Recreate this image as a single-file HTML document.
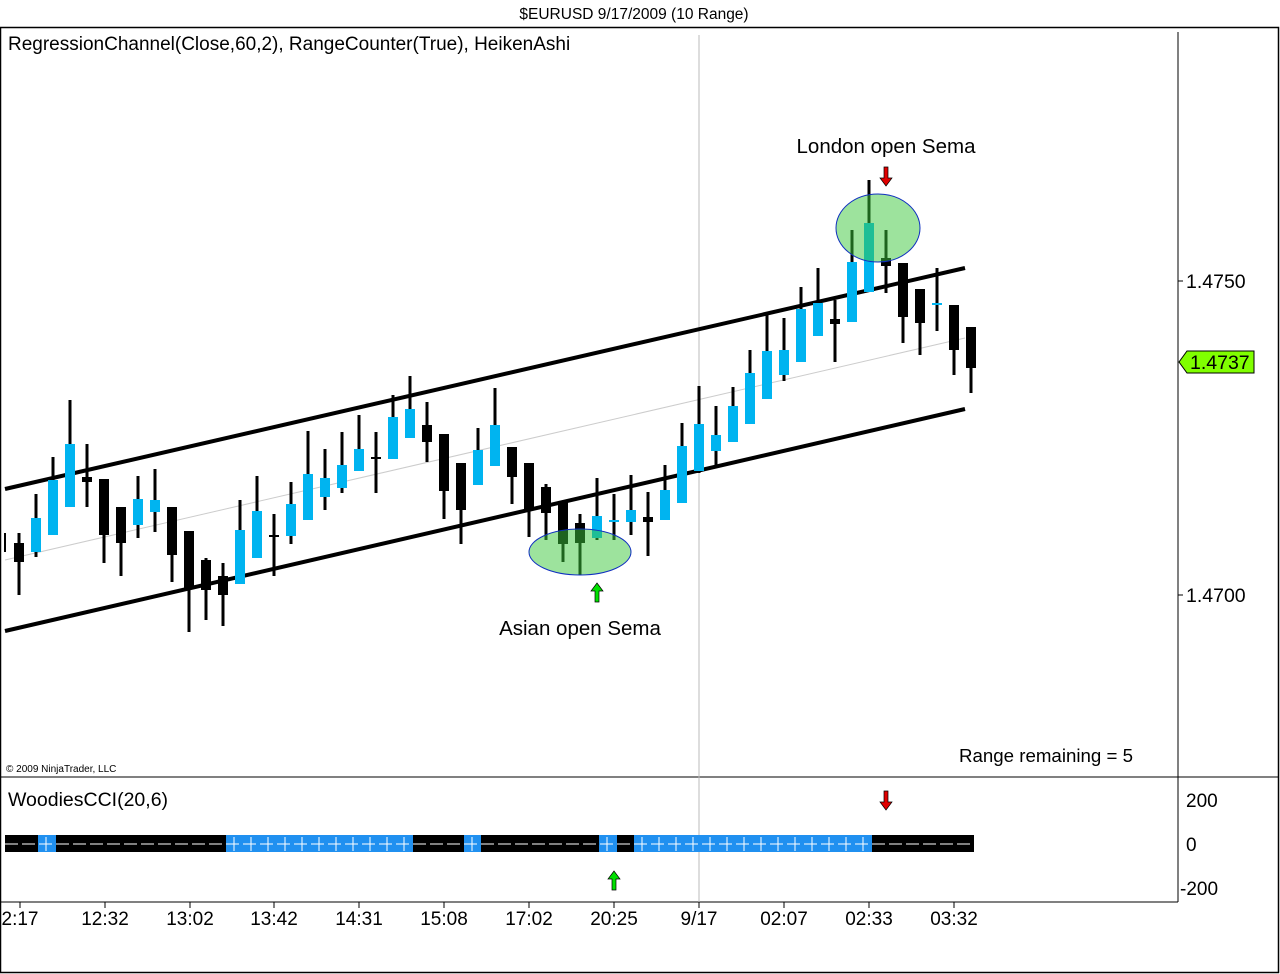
<!DOCTYPE html>
<html><head><meta charset="utf-8"><style>
body{margin:0;background:#fff;width:1280px;height:974px;overflow:hidden}
svg{display:block;font-family:"Liberation Sans",Arial,sans-serif}
</style></head><body>
<svg id="s" width="1280" height="974" viewBox="0 0 1280 974" xmlns="http://www.w3.org/2000/svg">
<rect width="1280" height="974" fill="#fff"/>
<text x="634" y="19" font-size="15.5" text-anchor="middle" fill="#000">$EURUSD  9/17/2009 (10 Range)</text>
<rect x="0.5" y="27.5" width="1278" height="945" fill="none" stroke="#000" stroke-width="1.5"/>
<line x1="1178" y1="32" x2="1178" y2="902" stroke="#000"/>
<line x1="0" y1="777" x2="1279" y2="777" stroke="#000"/>
<line x1="0" y1="902" x2="1178" y2="902" stroke="#000"/>
<line x1="699" y1="35" x2="699" y2="902" stroke="#bbb"/>
<text x="8" y="50" font-size="19">RegressionChannel(Close,60,2), RangeCounter(True), HeikenAshi</text>
<text x="8" y="806" font-size="19.5">WoodiesCCI(20,6)</text>
<text x="6" y="772" font-size="10">© 2009 NinjaTrader, LLC</text>
<text x="1133" y="762" font-size="18.7" text-anchor="end">Range remaining = 5</text>
<line x1="5" y1="560" x2="965" y2="338" stroke="#ccc" stroke-width="1"/>
<line x1="5" y1="489" x2="965" y2="268" stroke="#000" stroke-width="4"/>
<line x1="5" y1="631" x2="965" y2="409" stroke="#000" stroke-width="4"/>
<g id="c"></g>
<ellipse cx="580" cy="552" rx="51" ry="23" fill="rgba(60,200,60,0.5)" stroke="#1030c0" stroke-width="1"/>
<ellipse cx="878" cy="228" rx="42" ry="34" fill="rgba(60,200,60,0.5)" stroke="#1030c0" stroke-width="1"/>
<text x="886" y="153" font-size="20.5" text-anchor="middle">London open Sema</text>
<text x="580" y="635" font-size="20.5" text-anchor="middle">Asian open Sema</text>
<g id="arrows"></g>
<line x1="1178" y1="281" x2="1183" y2="281" stroke="#000"/>
<line x1="1178" y1="595" x2="1183" y2="595" stroke="#000"/>
<text x="1186" y="288" font-size="19.5">1.4750</text>
<text x="1186" y="602" font-size="19.5">1.4700</text>
<polygon points="1179,362 1187,351 1254,351 1254,373 1187,373" fill="#80ff00" stroke="#000"/>
<text x="1190" y="369" font-size="19.5">1.4737</text>
<rect x="5" y="835" width="969" height="17" fill="#000"/>
<g id="cci"></g>
<text x="1186" y="807" font-size="19">200</text>
<text x="1186" y="851" font-size="19">0</text>
<text x="1180" y="895" font-size="19">-200</text>
<g id="t"></g>
</svg>
<script>
var N="http://www.w3.org/2000/svg";
function el(p,t,a){var e=document.createElementNS(N,t);for(var k in a)e.setAttribute(k,a[k]);document.getElementById(p).appendChild(e);return e;}
var d=[[19,'k',543,562,533,595],[36,'b',518,552,494,557],[53,'b',480,535,457,535],[70,'b',444,507,400,507],[87,'k',477,482,444,507],[104,'k',479,535,479,563],[121,'k',507,543,507,576],[138,'b',499,525,476,538],[155,'b',500,512,469,532],[172,'k',507,555,507,582],[189,'k',531,588,531,632],[206,'k',560,590,558,620],[223,'k',576,595,563,626],[240,'b',530,584,500,584],[257,'b',511,558,476,558],[274,'d',536,536,514,576],[291,'b',504,536,482,544],[308,'b',474,520,431,520],[325,'b',478,497,449,510],[342,'b',465,488,432,493],[359,'b',449,471,415,471],[376,'d',458,458,432,493],[393,'b',417,459,395,459],[410,'b',409,438,376,438],[427,'k',425,442,402,462],[444,'k',434,491,434,519],[461,'k',463,510,463,544],[478,'b',450,485,428,485],[495,'b',425,466,388,466],[512,'k',447,477,447,504],[529,'k',463,510,463,537],[546,'k',487,513,484,540],[563,'k',501,544,501,562],[580,'k',523,543,514,575],[597,'b',516,538,478,540],[614,'e',521,521,494,540],[631,'b',510,522,475,535],[648,'k',517,522,492,556],[665,'b',490,520,465,520],[682,'b',446,503,423,503],[699,'b',424,471,386,473],[716,'b',435,451,406,468],[733,'b',406,442,387,442],[750,'b',373,424,350,424],[767,'b',351,399,313,399],[784,'b',350,375,318,381],[801,'b',309,362,287,362],[818,'b',303,336,268,336],[835,'k',319,324,300,362],[852,'b',262,322,230,322],[869,'b',223,292,180,292],[886,'k',258,266,230,293],[903,'k',263,317,263,343],[920,'k',289,323,289,355],[937,'e',304,304,268,331],[954,'k',305,350,305,375],[971,'k',327,368,327,393]];
el('c','line',{x1:5,y1:533,x2:5,y2:552,stroke:'#000','stroke-width':2});
d.forEach(function(c){var x=c[0];
el('c','line',{x1:x,y1:c[4],x2:x,y2:c[5],stroke:'#000','stroke-width':3});
if(c[1]=='d'){el('c','rect',{x:x-5,y:c[2]-1,width:10,height:2,fill:'#000'});}
else if(c[1]=='e'){el('c','rect',{x:x-5,y:c[2]-1,width:10,height:2,fill:'#00b4f0'});}
else el('c','rect',{x:x-5,y:c[2],width:10,height:Math.max(c[3]-c[2],3),fill:c[1]=='b'?'#00b4f0':'#000'});});
[[38,56],[226,413],[464,481],[599,617],[634,872]].forEach(function(s){el('cci','rect',{x:s[0],y:835,width:s[1]-s[0],height:17,fill:'#2090f0'});});
el('cci','line',{x1:5,y1:844,x2:974,y2:844,stroke:'#fff','stroke-width':1,'stroke-dasharray':'13,4'});
[[38,56],[226,413],[464,481],[599,617],[634,872]].forEach(function(s){for(var x=s[0]+8;x<s[1];x+=17)el('cci','line',{x1:x,y1:837,x2:x,y2:851,stroke:'#fff','stroke-width':1});});
function arrow(x,y,down,col){var p=down?[[x-2,y-11],[x+2,y-11],[x+2,y],[x+6,y],[x,y+8],[x-6,y],[x-2,y]]:[[x-2,y+11],[x+2,y+11],[x+2,y],[x+6,y],[x,y-8],[x-6,y],[x-2,y]];
el('arrows','polygon',{points:p.map(function(q){return q.join(',')}).join(' '),fill:col,stroke:'#000','stroke-width':0.7});}
arrow(886,178,true,'#e00000');arrow(597,591,false,'#00e000');arrow(886,802,true,'#e00000');arrow(614,879,false,'#00e000');
[['2:17',20],['12:32',105],['13:02',190],['13:42',274],['14:31',359],['15:08',444],['17:02',529],['20:25',614],['9/17',699],['02:07',784],['02:33',869],['03:32',954]].forEach(function(t){
el('t','line',{x1:t[1],y1:902,x2:t[1],y2:908,stroke:'#000'});
var e=el('t','text',{x:t[1],y:925,'font-size':19,'text-anchor':'middle'});e.textContent=t[0];});
</script>
</body></html>
